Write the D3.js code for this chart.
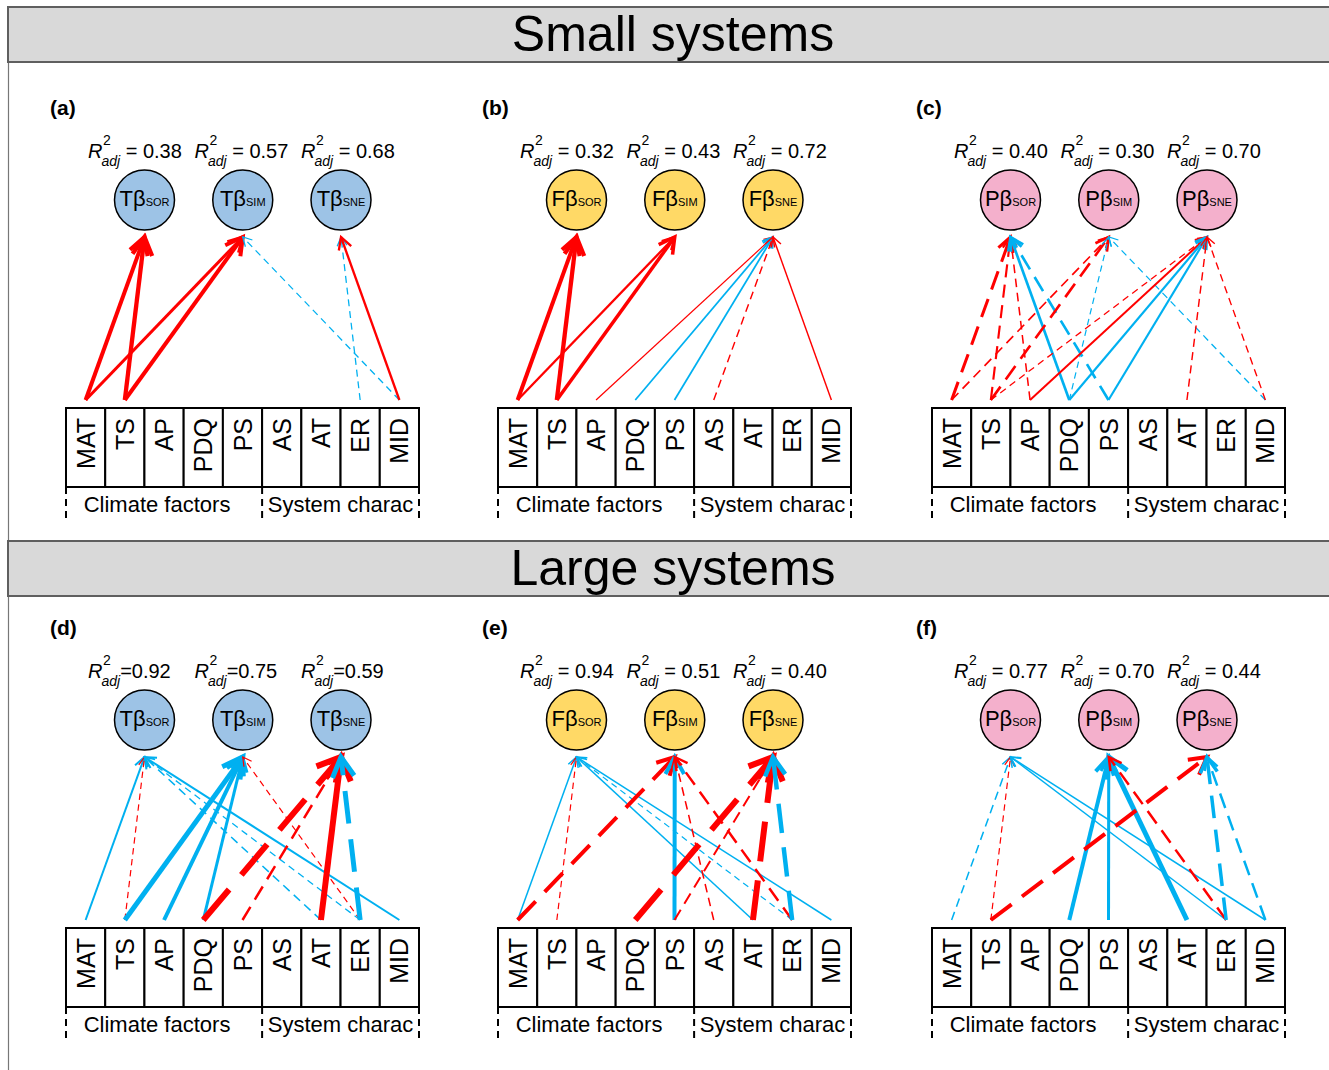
<!DOCTYPE html>
<html>
<head>
<meta charset="utf-8">
<script src="https://cdn.jsdelivr.net/npm/d3@7"></script>
<style>
  body { margin: 0; background: #fff; }
  svg { display: block; }
  text { font-family: "Liberation Sans", Arial, Helvetica, sans-serif; fill: #000; }
</style>
</head>
<body>
<svg id="fig" width="1329" height="1070"></svg>
<script>
// ---- data ----
const factors = ["MAT", "TS", "AP", "PDQ", "PS", "AS", "AT", "ER", "MID"];
const factorGroups = [
  { name: "Climate factors", first: "MAT", last: "PS" },
  { name: "System charac", first: "AS", last: "MID" }
];
const responses = ["SOR", "SIM", "SNE"];
const sectionTitles = ["Small systems", "Large systems"];
const panelTags = ["(a)", "(b)", "(c)", "(d)", "(e)", "(f)"];
const panelPrefix = ["T", "F", "P", "T", "F", "P"];
const r2adj = [
  [0.38, 0.57, 0.68],
  [0.32, 0.43, 0.72],
  [0.40, 0.30, 0.70],
  [0.92, 0.75, 0.59],
  [0.94, 0.51, 0.40],
  [0.77, 0.70, 0.44]
];
const r2Spaced = [true, true, true, false, true, true];

// path coefficients: [predictor, response, standardized coefficient, line type (1 solid, 2 dashed)]
const pathsA = [
  ["MAT", "SOR", 0.50, 1], ["TS", "SOR", 0.54, 1],
  ["MAT", "SIM", 0.38, 1], ["TS", "SIM", 0.50, 1],
  ["MID", "SIM", -0.16, 2],
  ["ER", "SNE", -0.16, 2], ["MID", "SNE", 0.29, 1]
];
const pathsB = [
  ["MAT", "SOR", 0.50, 1], ["TS", "SOR", 0.54, 1],
  ["MAT", "SIM", 0.29, 1], ["TS", "SIM", 0.44, 1],
  ["AP", "SNE", 0.15, 1], ["PDQ", "SNE", -0.22, 1], ["PS", "SNE", -0.22, 1],
  ["AS", "SNE", 0.18, 2], ["MID", "SNE", 0.18, 1]
];
const pathsC = [
  ["MAT", "SOR", 0.38, 2], ["TS", "SOR", 0.27, 2], ["AP", "SOR", 0.19, 2],
  ["PDQ", "SOR", -0.33, 1], ["PS", "SOR", -0.33, 2],
  ["MAT", "SIM", 0.21, 2], ["TS", "SIM", 0.33, 2], ["PDQ", "SIM", -0.15, 2], ["MID", "SIM", -0.16, 2],
  ["TS", "SNE", 0.16, 2], ["AP", "SNE", 0.25, 1], ["PDQ", "SNE", -0.27, 1], ["PS", "SNE", -0.27, 1],
  ["AT", "SNE", 0.18, 2], ["MID", "SNE", 0.17, 2]
];
const pathsD = [
  ["MAT", "SOR", -0.25, 1], ["TS", "SOR", 0.15, 2], ["AT", "SOR", -0.19, 2],
  ["ER", "SOR", -0.16, 2], ["MID", "SOR", -0.25, 1],
  ["TS", "SIM", -0.62, 1], ["AP", "SIM", -0.50, 1], ["PDQ", "SIM", -0.38, 1], ["ER", "SIM", 0.15, 2],
  ["PDQ", "SNE", 0.75, 2], ["PS", "SNE", 0.31, 2], ["AT", "SNE", 0.75, 1], ["ER", "SNE", -0.62, 2]
];
const pathsE = [
  ["MAT", "SOR", -0.19, 1], ["TS", "SOR", 0.15, 2], ["AT", "SOR", -0.19, 1],
  ["ER", "SOR", -0.15, 2], ["MID", "SOR", -0.19, 1],
  ["MAT", "SIM", 0.50, 2], ["PS", "SIM", -0.50, 1], ["AS", "SIM", 0.19, 2], ["ER", "SIM", 0.31, 2],
  ["PDQ", "SNE", 0.75, 2], ["PS", "SNE", 0.25, 2], ["AT", "SNE", 0.75, 2], ["ER", "SNE", -0.56, 2]
];
const pathsF = [
  ["MAT", "SOR", -0.19, 2], ["TS", "SOR", 0.15, 2], ["ER", "SOR", -0.19, 1], ["MID", "SOR", -0.19, 1],
  ["PDQ", "SIM", -0.50, 1], ["PS", "SIM", -0.38, 1], ["AT", "SIM", -0.62, 1], ["ER", "SIM", 0.31, 2],
  ["TS", "SNE", 0.50, 2], ["ER", "SNE", -0.44, 2], ["MID", "SNE", -0.31, 2]
];
const panelPaths = [pathsA, pathsB, pathsC, pathsD, pathsE, pathsF];

// ---- layout ----
const svg = d3.select("#fig");
const posColor = "#ff0000", negColor = "#00b0f0";
const nodeFill = { T: "#9dc3e6", F: "#ffd966", P: "#f4b0cc" };
const panelLeft = [66, 498, 932];
const rowTop = [0, 520];
const bandTop = [7, 541];
const boxW = 353, boxTop = 408, boxBottom = 487;
const nodeY = 200, nodeR = 30, tipY = 237, startY = 400;

const xBand = d3.scaleBand().domain(factors).range([0, boxW]);
const nodeX = d3.scalePoint().domain(responses).range([78.5, 275]);
const labelX = d3.scalePoint().domain(responses).range([22, 235]);
const widthScale = d3.scaleLinear().domain([0, 1]).range([0, 8]);
const fmt = d3.format(".2f");

// left frame line
svg.append("line")
  .attr("x1", 8.5).attr("x2", 8.5).attr("y1", 7).attr("y2", 1070)
  .attr("stroke", "#777").attr("stroke-width", 1.2);

// section header bands
sectionTitles.forEach((title, i) => {
  svg.append("rect")
    .attr("x", 8).attr("y", bandTop[i]).attr("width", 1340).attr("height", 55)
    .attr("fill", "#d9d9d9").attr("stroke", "#5f5f5f").attr("stroke-width", 2);
  svg.append("text")
    .attr("x", 673).attr("y", bandTop[i] + 44)
    .attr("text-anchor", "middle").attr("font-size", 50)
    .text(title);
});

panelTags.forEach((tag, i) => {
  const row = Math.floor(i / 3), col = i % 3;
  const g = svg.append("g").attr("transform", `translate(${panelLeft[col]},${rowTop[row]})`);

  // panel tag
  g.append("text").attr("x", -16).attr("y", 115)
    .attr("font-size", 21).attr("font-weight", "bold").text(tag);

  // predictor boxes
  g.selectAll("rect.cell").data(factors).join("rect")
    .attr("class", "cell")
    .attr("x", d => xBand(d)).attr("y", boxTop)
    .attr("width", xBand.bandwidth()).attr("height", boxBottom - boxTop)
    .attr("fill", "#fff").attr("stroke", "#000").attr("stroke-width", 2);
  g.selectAll("text.factor").data(factors).join("text")
    .attr("class", "factor")
    .attr("transform", d => `translate(${xBand(d) + xBand.bandwidth() / 2 + 9},${boxTop + 10}) rotate(-90)`)
    .attr("text-anchor", "end").attr("font-size", 25)
    .text(d => d);

  // predictor groups
  const groupEdges = [xBand(factorGroups[0].first), xBand(factorGroups[1].first), boxW];
  groupEdges.forEach(x => {
    g.append("line").attr("x1", x).attr("x2", x).attr("y1", boxBottom).attr("y2", boxBottom + 34)
      .attr("stroke", "#000").attr("stroke-width", 2).attr("stroke-dasharray", "7,5");
  });
  factorGroups.forEach((grp, k) => {
    const x0 = xBand(grp.first), x1 = xBand(grp.last) + xBand.bandwidth();
    g.append("text").attr("x", (x0 + x1) / 2 + (k === 0 ? -7 : 0)).attr("y", boxBottom + 25)
      .attr("text-anchor", "middle").attr("font-size", 22).text(grp.name);
  });

  // paths
  panelPaths[i].forEach(([from, to, coef, lty]) => {
    const x1 = xBand(from) + xBand.bandwidth() / 2, y1 = startY;
    const x2 = nodeX(to), y2 = tipY;
    const w = widthScale(Math.abs(coef));
    const color = coef > 0 ? posColor : negColor;
    const line = g.append("line")
      .attr("x1", x1).attr("y1", y1).attr("x2", x2).attr("y2", y2)
      .attr("stroke", color).attr("stroke-width", w);
    if (lty === 2) {
      line.attr("stroke-dasharray", `${7 * w - 2},${3 * w + 1}`);
    }
    const ang = Math.atan2(y2 - y1, x2 - x1);
    const L = 5 + 3 * w, hw = 0.55 * L;
    const bx = x2 - L * Math.cos(ang), by = y2 - L * Math.sin(ang);
    const px = -Math.sin(ang) * hw, py = Math.cos(ang) * hw;
    g.append("path")
      .attr("d", `M${bx + px},${by + py}L${x2},${y2}L${bx - px},${by - py}`)
      .attr("fill", "none").attr("stroke", color).attr("stroke-width", w)
      .attr("stroke-linejoin", "miter").attr("stroke-miterlimit", 10);
  });

  // response nodes
  responses.forEach((r, j) => {
    const cx = nodeX(r);
    g.append("circle").attr("cx", cx).attr("cy", nodeY).attr("r", nodeR)
      .attr("fill", nodeFill[panelPrefix[i]]).attr("stroke", "#000").attr("stroke-width", 1.5);
    const t = g.append("text").attr("x", cx).attr("y", nodeY + 6).attr("text-anchor", "middle");
    t.append("tspan").attr("font-size", 22).text(panelPrefix[i] + "\u03B2");
    t.append("tspan").attr("font-size", 11).text(r);

    // adjusted R² label
    const lx = labelX(r), ly = 158;
    const R = g.append("text").attr("x", lx).attr("y", ly)
      .attr("font-size", 20).attr("font-style", "italic").text("R");
    const rw = R.node().getComputedTextLength();
    g.append("text").attr("x", lx + rw + 0.5).attr("y", ly - 13)
      .attr("font-size", 14).text("2");
    const adj = g.append("text").attr("x", lx + rw - 1).attr("y", ly + 8)
      .attr("font-size", 14).attr("font-style", "italic").text("adj");
    const aw = adj.node().getComputedTextLength();
    g.append("text").attr("x", lx + rw - 1 + aw).attr("y", ly)
      .attr("font-size", 20).style("white-space", "pre")
      .text((r2Spaced[i] ? " = " : "=") + fmt(r2adj[i][j]));
  });
});
</script>
</body>
</html>
